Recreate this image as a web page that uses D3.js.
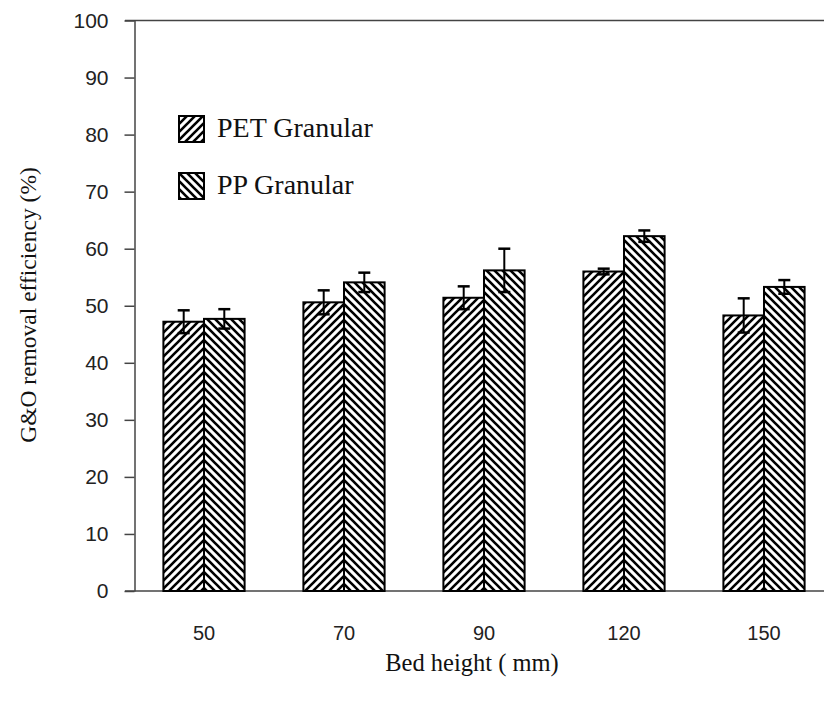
<!DOCTYPE html>
<html>
<head>
<meta charset="utf-8">
<script src="https://cdn.jsdelivr.net/npm/d3@7"></script>
<style>
  body { margin: 0; background: #fff; }
  svg { display: block; }
</style>
</head>
<body>
<div id="chart"></div>
<script>
"use strict";

// data
var heights = ["50", "70", "90", "120", "150"];
var series = ["PET Granular", "PP Granular"];
var petValues = [47.2, 50.6, 51.4, 56.0, 48.3];
var petErrors = [2.0, 2.1, 2.0, 0.5, 3.0];
var ppValues = [47.7, 54.1, 56.2, 62.2, 53.3];
var ppErrors = [1.7, 1.7, 3.8, 1.0, 1.2];
var yTicks = [0, 10, 20, 30, 40, 50, 60, 70, 80, 90, 100];

var width = 824,
  height = 709;

var svg = d3
  .select("#chart")
  .append("svg")
  .attr("width", width)
  .attr("height", height);

// hatch patterns
var defs = svg.append("defs");
function hatch(id, d) {
  var p = defs
    .append("pattern")
    .attr("id", id)
    .attr("patternUnits", "userSpaceOnUse")
    .attr("width", 8)
    .attr("height", 8);
  p.append("rect").attr("width", 8).attr("height", 8).attr("fill", "#fff");
  p.append("path")
    .attr("d", d)
    .attr("stroke", "#000")
    .attr("stroke-width", 2.6)
    .attr("stroke-linecap", "square");
}
hatch("up", "M-2,2 L2,-2 M0,8 L8,0 M6,10 L10,6");
hatch("down", "M-2,6 L2,10 M0,0 L8,8 M6,-2 L10,2");
var fills = ["url(#up)", "url(#down)"];

var x = d3
  .scaleBand()
  .domain(heights)
  .range([134, 834])
  .paddingInner(0.42)
  .paddingOuter(0.21);

var xs = d3.scaleBand().domain(series).range([0, x.bandwidth()]);

var y = d3.scaleLinear().domain([0, 100]).range([591, 20.5]);

var rows = [];
heights.forEach(function(h, i) {
  rows.push({ h: h, s: series[0], v: petValues[i], e: petErrors[i] });
  rows.push({ h: h, s: series[1], v: ppValues[i], e: ppErrors[i] });
});

var sans = "'Liberation Sans', Arial, sans-serif";
var serif = "'Liberation Serif', 'Times New Roman', serif";

// frame lines
svg.append("line")
  .attr("x1", 125).attr("x2", width)
  .attr("y1", y(100)).attr("y2", y(100))
  .attr("stroke", "#444").attr("stroke-width", 1.5);
svg.append("line")
  .attr("x1", 125).attr("x2", width)
  .attr("y1", y(0)).attr("y2", y(0))
  .attr("stroke", "#444").attr("stroke-width", 1.5);

// y axis
var yAxis = svg
  .append("g")
  .attr("transform", "translate(134.5,0)")
  .call(d3.axisLeft(y).tickValues(yTicks).tickSize(10).tickSizeOuter(0).tickPadding(16));
yAxis.select(".domain").attr("stroke", "#444").attr("stroke-width", 1.5);
yAxis.selectAll(".tick line").attr("stroke", "#444").attr("stroke-width", 1.5);
yAxis.selectAll("text")
  .attr("font-family", sans)
  .attr("font-size", 21)
  .attr("fill", "#222");

// bars
svg
  .selectAll("rect.bar")
  .data(rows)
  .enter()
  .append("rect")
  .attr("class", "bar")
  .attr("x", function(d) { return x(d.h) + xs(d.s); })
  .attr("y", function(d) { return y(d.v); })
  .attr("width", xs.bandwidth())
  .attr("height", function(d) { return y(0) - y(d.v); })
  .attr("fill", function(d) { return fills[series.indexOf(d.s)]; })
  .attr("stroke", "#000")
  .attr("stroke-width", 2);

// error bars
function cx(d) { return x(d.h) + xs(d.s) + xs.bandwidth() / 2; }
var err = svg.selectAll("g.err").data(rows).enter().append("g").attr("class", "err");
err.append("line")
  .attr("x1", cx)
  .attr("x2", cx)
  .attr("y1", function(d) { return y(d.v - d.e); })
  .attr("y2", function(d) { return y(d.v + d.e); })
  .attr("stroke", "#000").attr("stroke-width", 2);
[-1, 1].forEach(function(sgn) {
  err.append("line")
    .attr("x1", function(d) { return cx(d) - 6; })
    .attr("x2", function(d) { return cx(d) + 6; })
    .attr("y1", function(d) { return y(d.v + sgn * d.e); })
    .attr("y2", function(d) { return y(d.v + sgn * d.e); })
    .attr("stroke", "#000").attr("stroke-width", 2.5);
});

// x labels
svg
  .selectAll("text.xlab")
  .data(heights)
  .enter()
  .append("text")
  .attr("class", "xlab")
  .attr("x", function(d) { return x(d) + x.bandwidth() / 2; })
  .attr("y", 640)
  .attr("text-anchor", "middle")
  .attr("font-family", sans)
  .attr("font-size", 20)
  .attr("fill", "#222")
  .text(function(d) { return d; });

// axis titles
svg.append("text")
  .attr("x", 472)
  .attr("y", 671)
  .attr("text-anchor", "middle")
  .attr("font-family", serif)
  .attr("font-size", 24.5)
  .attr("fill", "#111")
  .text("Bed height ( mm)");

svg.append("text")
  .attr("transform", "translate(36,305) rotate(-90)")
  .attr("text-anchor", "middle")
  .attr("font-family", serif)
  .attr("font-size", 23.5)
  .attr("fill", "#111")
  .text("G&O removal efficiency (%)");

// legend
var legend = svg
  .selectAll("g.legend")
  .data(series)
  .enter()
  .append("g")
  .attr("class", "legend")
  .attr("transform", function(d, i) { return "translate(179," + (116 + i * 57) + ")"; });
legend.append("rect")
  .attr("width", 25)
  .attr("height", 26)
  .attr("fill", function(d, i) { return fills[i]; })
  .attr("stroke", "#000")
  .attr("stroke-width", 2);
legend.append("text")
  .attr("x", 38)
  .attr("y", 21)
  .attr("font-family", serif)
  .attr("font-size", 28)
  .attr("fill", "#111")
  .text(function(d) { return d; });
</script>
</body>
</html>
